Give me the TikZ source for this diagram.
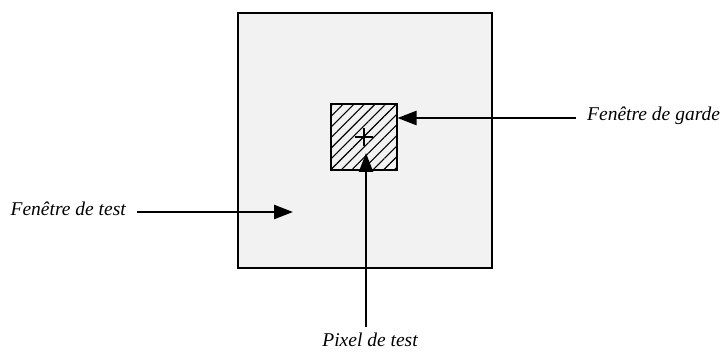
\documentclass[tikz,border=0pt]{standalone}
\usepackage{fontspec}
\setmainfont{Liberation Serif}
\usetikzlibrary{patterns.meta,arrows.meta}
\begin{document}
\begin{tikzpicture}[x=1pt,y=-1pt,
  lbl/.style={font=\fontsize{19.5}{22}\selectfont\itshape, inner sep=0pt},
  arr/.style={line width=2.4pt,-{Triangle[length=19pt,width=14pt]}},
  boxline/.style={line width=2.4pt}]
\useasboundingbox (0,0) rectangle (720,352);
\node[boxline, draw, fill=black!5, minimum width=254pt, minimum height=255pt, inner sep=0pt] (outer) at (365,140.5) {};
\node[draw, line width=2.2pt, fill=white, pattern={Lines[angle=45,distance=7.5pt,line width=1.1pt]}, minimum width=66pt, minimum height=66pt, inner sep=0pt] (inner) at (364,137) {};
\draw[line width=1.8pt] (355,137) -- (373,137) (364,128) -- (364,146);
\node[lbl, anchor=base east] (lt) at (126,216) {Fenêtre de test};
\node[lbl, anchor=base west] (rt) at (587,121) {Fenêtre de garde};
\node[lbl, anchor=base] (bt) at (370,347) {Pixel de test};
\coordinate (ltip) at (293,212);
\coordinate (rtip) at (397.5,118);
\coordinate (btip) at (366,153);
\coordinate (lstart) at (137,212);
\coordinate (rstart) at (576,118);
\coordinate (bstart) at (366,327);
\draw[arr] (lstart) -- (ltip);
\draw[arr] (rstart) -- (rtip);
\draw[arr] (bstart) -- (btip);
\end{tikzpicture}
\end{document}
